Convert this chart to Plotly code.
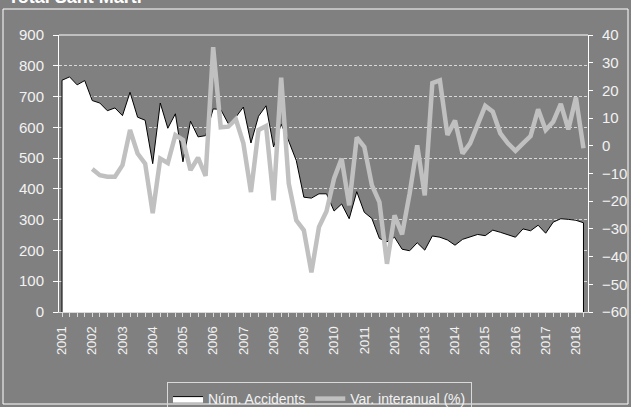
import plotly.graph_objects as go

years = [str(y) for y in range(2001, 2019)]
accidents = [753, 764, 738, 752, 687, 679, 654, 663, 638, 714,
             633, 623, 482, 679, 597, 644, 488, 620, 569, 573,
             660, 658, 612, 633, 666, 549, 636, 670, 536, 610,
             555, 492, 373, 370, 384, 384, 328, 351, 303, 391,
             324, 304, 239, 228, 243, 204, 199, 225, 201, 247,
             243, 234, 217, 236, 245, 252, 248, 266, 259, 251,
             243, 270, 264, 282, 256, 292, 303, 301, 298, 290]
var_interanual = [None, None, None, None,
                  -8.4, -10.6, -11.2, -11.2, -7.0, 5.7, -2.8, -6.4, -24.3, -4.6,
                  -6.2, 3.9, 2.1, -8.8, -4.3, -10.9, 35.6, 6.7, 6.9, 9.6,
                  0.9, -16.7, 5.7, 7.1, -19.7, 24.6, -13.6, -26.9, -30.5, -45.7,
                  -29.3, -23.6, -11.8, -4.6, -21.5, 3.0, -0.4, -14.2, -20.3, -42.6,
                  -25.1, -32.0, -17.2, 0.2, -17.9, 22.6, 23.6, 3.9, 9.1, -2.8,
                  0.9, 7.5, 14.4, 12.3, 4.5, 0.9, -1.8, 0.9, 3.5, 13.2,
                  5.7, 8.7, 15.1, 5.9, 17.4, -0.9]
series_names = ["Núm. Accidents", "Var. interanual (%)"]
title_text = "Total Sant Martí"

idx = list(range(len(accidents)))
tickvals = idx
ticktext = [years[i // 4] if i % 4 == 0 else "" for i in idx]

FONT = "Liberation Sans, Arial, sans-serif"
TXT = "#f2f2f2"
W, H = 631, 407
ML, MR, MT, MB = 59, 43, 35, 95
PW, PH = W - ML - MR, H - MT - MB

fig = go.Figure()
fig.add_trace(go.Scatter(
    x=[idx[0]] + idx + [idx[-1]], y=[0] + accidents + [0],
    fill="toself", fillcolor="white", mode="lines",
    line=dict(color="black", width=1), name=series_names[0],
    hoverinfo="skip"))
fig.add_trace(go.Scatter(
    x=idx, y=var_interanual, mode="lines", yaxis="y2",
    line=dict(color="#c0c0c0", width=4.5), name=series_names[1],
    connectgaps=False))

fig.update_layout(
    width=W, height=H,
    paper_bgcolor="#808080", plot_bgcolor="#808080",
    margin=dict(l=ML, r=MR, t=MT, b=MB, autoexpand=False),
    font=dict(family=FONT, color=TXT, size=14),
    showlegend=True,
    legend=dict(orientation="h", xref="container", yref="container",
                x=319.5 / W, xanchor="center", y=(H - 382) / H, yanchor="top",
                bgcolor="rgba(0,0,0,0)", bordercolor="#d9d9d9", borderwidth=1,
                font=dict(size=14, color=TXT, family=FONT),
                itemwidth=30, tracegroupgap=0),
    xaxis=dict(range=[-0.4, 69.6], tickmode="array", tickvals=tickvals, ticktext=ticktext,
               tickangle=-90, ticks="outside", ticklen=4, tickcolor="#d9d9d9",
               showline=True, linecolor="#d9d9d9", linewidth=1, automargin=False,
               showgrid=False, zeroline=False,
               tickfont=dict(size=13, color=TXT, family=FONT), ticklabelstandoff=4),
    yaxis=dict(range=[0, 900], dtick=100, tick0=0, ticks="outside", ticklen=5,
               tickcolor="white", showline=True, linecolor="white", linewidth=1,
               showgrid=True, gridcolor="#d9d9d9", griddash="3px,2px", gridwidth=1,
               zeroline=False, automargin=False,
               tickfont=dict(size=15, color=TXT, family=FONT), ticklabelstandoff=6),
    yaxis2=dict(range=[-60, 40], dtick=10, tick0=0, overlaying="y", side="right",
                ticks="outside", ticklen=4, tickcolor="white", showline=True,
                linecolor="white", linewidth=1, showgrid=False, zeroline=False,
                automargin=False,
                tickfont=dict(size=15, color=TXT, family=FONT), ticklabelstandoff=6),
    shapes=[
        dict(type="line", xref="paper", yref="paper", x0=0, x1=1, y0=1, y1=1,
             line=dict(color="white", width=1)),
        dict(type="rect", xref="paper", yref="paper",
             x0=(3 - ML) / PW, x1=(628 - ML) / PW,
             y0=(H - MB - 404) / PH, y1=(H - MB - 9) / PH,
             line=dict(color="white", width=1), fillcolor="rgba(0,0,0,0)"),
    ],
    annotations=[dict(text="<b>" + title_text + "</b>", xref="paper", yref="paper",
                      x=(6 - ML) / PW, xanchor="left", y=(H - MB - 9) / PH, yanchor="bottom",
                      showarrow=False, font=dict(size=18, color="white", family=FONT))],
)

fig.write_html("out.html", config={"displayModeBar": False},
               post_script="document.body.style.margin='0px';document.body.style.overflow='hidden';")
